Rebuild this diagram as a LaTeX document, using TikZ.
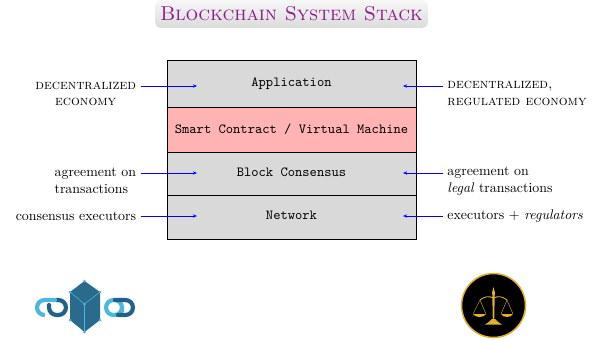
\documentclass[tikz,border=0pt]{standalone}
\usepackage{amsmath, amssymb}
\usepackage{xcolor}
\usetikzlibrary{arrows,arrows.meta,shapes,calc}
\definecolor{layergray}{HTML}{D9D9D9}
\definecolor{layerred}{HTML}{FFB3B3}
\definecolor{titlepurple}{HTML}{8B1A8B}
\definecolor{cubeblue}{HTML}{2A6A8C}
\definecolor{linkdark}{HTML}{22628A}
\definecolor{linklight}{HTML}{4DB8DC}
\definecolor{goldline}{HTML}{E0B030}
\tikzset{
	layer/.style = {draw = black, line width = .5pt, minimum width = 249*.72pt, inner sep = 0pt, font = \ttfamily},
	note/.style = {inner ysep = 0pt, inner xsep = 3pt},
	feed/.style = {blue, line width = .5pt, -{Stealth[length = 3pt, width = 2.4pt]}},
	link/.style = {line width = 3pt, line cap = round, rounded corners = 5.5pt},
	gold/.style = {goldline, line width = .6pt},
}
\begin{document}
\begin{tikzpicture}[x = .72pt, y = -.72pt]
	\useasboundingbox (0,0) rectangle (594,339);
	% title
	\node[rounded corners = 4pt, top color = gray!6, bottom color = gray!28, minimum width = 273*.72pt, minimum height = 28*.72pt, inner sep = 0pt] (title) at (291.5,14) {};
	\node[titlepurple, font = \Large, inner sep = 0pt] (titletext) at (291.5,13.5) {\textsc{Blockchain System Stack}};
	% the stack
	\node[layer, fill = layergray, minimum height = 47.5*.72pt] (app) at (291.5,83.75) {};
	\node[layer, fill = layerred, minimum height = 44.5*.72pt] (vm) at (291.5,129.75) {Smart Contract / Virtual Machine};
	\node[layer, fill = layergray, minimum height = 43*.72pt] (cons) at (291.5,173.5) {};
	\node[layer, fill = layergray, minimum height = 44*.72pt] (net) at (291.5,217) {};
	\node[font = \ttfamily, inner sep = 0pt] (apptext) at (291.5,84) {Application};
	\node[font = \ttfamily, inner sep = 0pt] (constext) at (291.5,172.5) {Block Consensus};
	\node[font = \ttfamily, inner sep = 0pt] (nettext) at (291.5,215.5) {Network};
	% arrow ends
	\coordinate (appl) at (197,86);
	\coordinate (consl) at (197,173);
	\coordinate (netl) at (197,216);
	\coordinate (appr) at (403,86);
	\coordinate (consr) at (403,173);
	\coordinate (netr) at (403,216);
	% left notes
	\node[note, anchor = east, align = center] (econl) at (140.5,94) {\textsc{decentralized}\\\textsc{economy}};
	\node[note, anchor = east, align = left] (agreel) at (140.5,181) {agreement on\\[.6pt]\hspace*{0pt}transactions};
	\node[note, anchor = east] (execl) at (140.5,216) {consensus executors};
	% right notes
	\node[note, anchor = west, align = left] (econr) at (443,93.5) {\textsc{decentralized,}\\\textsc{regulated economy}};
	\node[note, anchor = west, align = left] (agreer) at (443,181) {agreement on\\[.6pt]\textit{legal} transactions};
	\node[note, anchor = west] (execr) at (443,216) {executors + \textit{regulators}};
	\draw[feed] (econl.east |- appl) -- (appl);
	\draw[feed] (agreel.east |- consl) -- (consl);
	\draw[feed] (execl.east |- netl) -- (netl);
	\draw[feed] (econr.west |- appr) -- (appr);
	\draw[feed] (agreer.west |- consr) -- (consr);
	\draw[feed] (execr.west |- netr) -- (netr);
	% chain logo
	\draw[link, linkdark] (49,305) -- (49,315) -- (66,315) -- (66,300) -- (56,300);
	\draw[link, linklight] (55,300) -- (37,300) -- (37,315) -- (43,315);
	\draw[link, linklight] (122,306) -- (122,300) -- (106,300) -- (106,315) -- (122,315) -- (122,311);
	\draw[link, linkdark] (115,300) -- (133,300) -- (133,315) -- (118,315);
	\fill[cubeblue] (84.5,281) -- (100,292) -- (100,320) -- (84.5,332) -- (70,320) -- (70,292) -- cycle;
	\draw[linklight, line width = .4pt] (70,292) -- (84.5,304) -- (100,292);
	\draw[linklight, line width = .4pt] (84.5,304) -- (84.5,332);
	\foreach \px/\py in {84.5/281, 100/292, 100/320, 84.5/332, 70/320, 70/292, 84.5/304}
		\fill[linklight] (\px,\py) circle (1.5);
	% scales logo
	\fill[black] (493.5,305.5) circle (32);
	\draw[goldline, line width = 1.1pt] (493.5,305.5) circle (32);
	\fill[goldline] (492.2,292) -- (493.5,287) -- (494.8,292) -- (494.2,320) -- (492.8,320) -- cycle;
	\fill[goldline] (485,324.5) .. controls (489,322) and (490,321) .. (492,319) -- (495,319) .. controls (497,321) and (498,322) .. (502,324.5) -- cycle;
	\draw[gold] (480,300) .. controls (485,296) and (489,296) .. (493.5,298) .. controls (498,296) and (502,296) .. (507,300);
	\draw[goldline, line width = .3pt] (473,314) -- (480,300) -- (486,314);
	\draw[goldline, line width = .3pt] (501,314) -- (507,300) -- (513,314);
	\fill[goldline] (473,314) .. controls (475,318) and (484,318) .. (486,314) -- cycle;
	\fill[goldline] (501,314) .. controls (503,318) and (511,318) .. (513,314) -- cycle;
\end{tikzpicture}
\end{document}
